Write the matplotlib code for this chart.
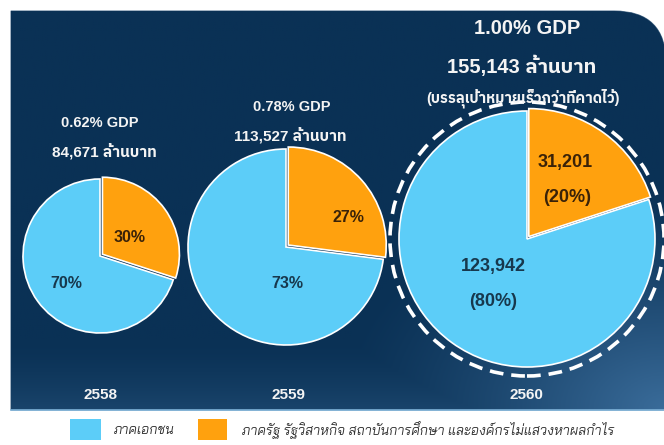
import numpy as np
import matplotlib
matplotlib.use('Agg')
import matplotlib.pyplot as plt
from matplotlib.path import Path
from matplotlib.patches import PathPatch, Circle, Rectangle

# ---- data ----
years = ['2558', '2559', '2560']
gdp_share = ['0.62% GDP', '0.78% GDP', '1.00% GDP']
totals = ['84,671', '113,527', '155,143']
private_pct = [70, 73, 80]
public_pct = [30, 27, 20]
values_2560 = ['123,942', '31,201']
legend_labels = ['ภาคเอกชน', 'ภาครัฐ รัฐวิสาหกิจ สถาบันการศึกษา และองค์กรไม่แสวงหาผลกำไร']

W, H = 664, 445
BLUE = '#5ccdf8'
ORANGE = '#ffa10e'
NAVY = '#0a3155'
LATIN_THAI = ['Liberation Sans', 'IBM Plex Sans Thai', 'DejaVu Sans']


def Y(y):
    # pixel row (from top) -> data y
    return H - y


fig = plt.figure(figsize=(W / 100, H / 100), dpi=100)
fig.patch.set_facecolor('white')
ax = fig.add_axes([0, 0, 1, 1])

# ---- background panel, top-right corner rounded ----
left, top, right, bottom = 11, 11, W + 2, 410
rad = 52
verts = [(left, Y(bottom)), (left, Y(top)), (right - rad, Y(top)),
         (right, Y(top)), (right, Y(top + rad)), (right, Y(bottom)), (left, Y(bottom))]
codes = [Path.MOVETO, Path.LINETO, Path.LINETO, Path.CURVE3, Path.CURVE3,
         Path.LINETO, Path.CLOSEPOLY]
panel = PathPatch(Path(verts, codes), facecolor=NAVY, edgecolor='#5a7894', lw=0.8, zorder=1)
ax.add_patch(panel)

# soft light glow towards the bottom (strongest bottom right)
gx, gy = np.meshgrid(np.linspace(left, right, 300), np.linspace(top, bottom, 200))
d = np.sqrt(((right - gx) / 330) ** 2 + ((bottom - gy) / 230) ** 2)
t = np.clip(1 - d, 0, 1) ** 1.3
t = np.maximum(t, np.clip((gy - 340) / 70, 0, 1) ** 1.5 * 0.32)
c0 = np.array(matplotlib.colors.to_rgb(NAVY))
c1 = np.array(matplotlib.colors.to_rgb('#3a6c9a'))
img = c0 + t[..., None] * (c1 - c0)
im = ax.imshow(img, extent=(left, right, Y(bottom), Y(top)), origin='upper',
               zorder=1.5, aspect='auto')
im.set_clip_path(panel)
ax.plot([left, right], [Y(bottom), Y(bottom)], color='#7fb3d9', lw=1.2, zorder=2)

# ---- pies ----
centers = [(100, 256), (286, 247), (527, 239)]
radii = [77, 98, 128]
for i in range(3):
    cx, cy = centers[i]
    wedges, _ = ax.pie([public_pct[i], private_pct[i]], colors=[ORANGE, BLUE],
                       startangle=90, counterclock=False, radius=radii[i],
                       center=(cx, Y(cy)), explode=[3, 0], frame=True,
                       wedgeprops=dict(edgecolor='white', linewidth=1.2))
    for w in wedges:
        w.set_zorder(3)

ax.add_patch(Circle((527, Y(239)), 137, fill=False, edgecolor='white', lw=2.6,
                    linestyle=(0, (3.8, 2.2)), zorder=4))

# labels inside the slices
lab = dict(ha='center', va='center', fontweight='bold', family=LATIN_THAI, zorder=5)
ax.text(130, Y(237), f'{public_pct[0]}%', fontsize=11.5, color='#3a2208', **lab)
ax.text(66, Y(283), f'{private_pct[0]}%', fontsize=11.5, color='#17384d', **lab)
ax.text(348, Y(217), f'{public_pct[1]}%', fontsize=11.5, color='#3a2208', **lab)
ax.text(287, Y(283), f'{private_pct[1]}%', fontsize=11.5, color='#17384d', **lab)
ax.text(565, Y(163), values_2560[1], fontsize=13, color='#3a2208', **lab)
ax.text(567, Y(198), f'({public_pct[2]}%)', fontsize=13, color='#3a2208', **lab)
ax.text(493, Y(267), values_2560[0], fontsize=13, color='#17384d', **lab)
ax.text(493, Y(302), f'({private_pct[2]}%)', fontsize=13, color='#17384d', **lab)

# titles above each pie
tt = dict(ha='center', va='center', fontweight='bold', color='#f4f4f4', family=LATIN_THAI, zorder=5)
ax.text(100, Y(123), gdp_share[0], fontsize=10.5, **tt)
ax.text(104, Y(151), totals[0] + ' ล้านบาท', fontsize=11, **tt)
ax.text(292, Y(107), gdp_share[1], fontsize=10.5, **tt)
ax.text(290, Y(135), totals[1] + ' ล้านบาท', fontsize=11, **tt)
ax.text(527, Y(28), gdp_share[2], fontsize=14.5, **tt)
ax.text(522, Y(66), totals[2] + ' ล้านบาท', fontsize=14.5, **tt)
ax.text(523, Y(98), '(บรรลุเป้าหมายเร็วกว่าที่คาดไว้)', fontsize=10.5, **tt)

# year labels
for x, yr in zip([100, 289, 526], years):
    ax.text(x, Y(395), yr, fontsize=11, **tt)

# ---- legend ----
ax.add_patch(Rectangle((70, Y(440)), 31, 21, facecolor=BLUE, edgecolor='none'))
ax.add_patch(Rectangle((198, Y(440)), 29, 21, facecolor=ORANGE, edgecolor='none'))
lg = dict(ha='left', va='center', fontsize=9.8, color='#333333', style='italic',
          family=['Bai Jamjuree', 'Noto Sans Thai'])
ax.text(114, Y(430), legend_labels[0], **lg)
ax.text(242, Y(430), legend_labels[1], **lg)

ax.set_xlim(0, W)
ax.set_ylim(0, H)
ax.set_aspect('auto')
ax.set_axis_off()

fig.savefig('out.png', dpi=100, facecolor='white')
